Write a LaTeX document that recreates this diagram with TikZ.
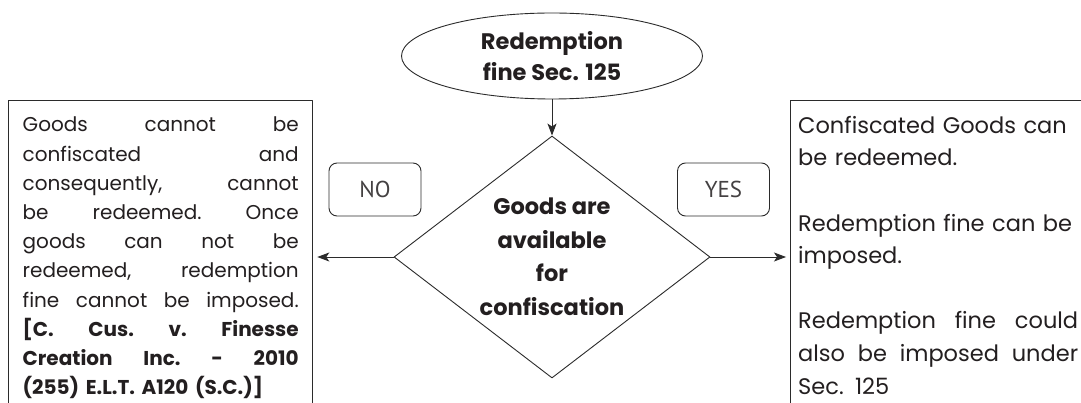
\documentclass[tikz,border=0pt]{standalone}
\usepackage{fontspec}
\setmainfont{Poppins}
\newfontfamily\gillfont{PT Sans}
\usetikzlibrary{shapes.geometric,arrows.meta}
\definecolor{ink}{HTML}{231F20}
\definecolor{edge}{HTML}{2B2B2B}
\newlength{\ltw}\setlength{\ltw}{276pt}
\newlength{\rtw}\setlength{\rtw}{280pt}
\newcommand{\jline}[1]{\makebox[\ltw][l]{#1}}
\newcommand{\rline}[1]{\makebox[\rtw][l]{#1}}
\begin{document}
\begin{tikzpicture}[x=1pt,y=-1pt,line join=round,
  shapeline/.style={draw=edge,line width=0.9pt},
  boxline/.style={draw=edge,line width=1.3pt},
  labelbox/.style={draw=edge,line width=0.9pt,rounded corners=8pt,minimum width=92pt,minimum height=53pt,inner sep=0pt,text=ink!85,font=\gillfont\fontsize{23}{26}\selectfont},
  bodytext/.style={text=ink,inner sep=0pt,align=left,font=\fontsize{20}{29.2}\selectfont},
  arr/.style={draw=edge,line width=0.9pt,-{Stealth[length=12pt,width=9pt,inset=3pt]}}]
\fill[white] (0,0) rectangle (1081,403);
\useasboundingbox (0,0) rectangle (1081,403);
\node[ellipse,shapeline,minimum width=301pt,minimum height=86pt,inner sep=0pt,align=center,text=ink,font=\bfseries\fontsize{22.5}{31}\selectfont] (start) at (552,56) {Redemption\\fine Sec. 125};
\node[diamond,shapeline,minimum width=316pt,minimum height=242pt,inner sep=0pt,aspect=1.306,align=center,text=ink,font=\bfseries\fontsize{22.5}{33.5}\selectfont] (dec) at (552,257) {Goods are\\available\\for\\confiscation};
\node[labelbox] (no) at (375,189.5) {NO};
\node[labelbox] (yes) at (723.5,189.5) {YES};
\node[boxline,anchor=north west,minimum width=304pt,minimum height=330pt,inner sep=0pt] (lbox) at (8,100) {};
\node[boxline,anchor=north west,minimum width=330pt,minimum height=330pt,inner sep=0pt] (rbox) at (790,100) {};
\node[bodytext,anchor=north west,text width=\ltw] (ltext) at (22.5,117) {%
\jline{Goods\hfill cannot\hfill be}\\
\jline{confiscated\hfill and}\\
\jline{consequently,\hfill cannot}\\
\jline{be\hfill redeemed.\hfill Once}\\
\jline{goods\hfill can\hfill not\hfill be}\\
\jline{redeemed,\hfill redemption}\\
\jline{fine\hfill cannot\hfill be\hfill imposed.}\\
\jline{\bfseries [C.\hfill Cus.\hfill v.\hfill Finesse}\\
\jline{\bfseries Creation\hfill Inc.\hfill -\hfill 2010}\\
{\bfseries (255) E.L.T. A120 (S.C.)]}};
\node[bodytext,anchor=north west,text width=\rtw,font=\fontsize{22.5}{32.6}\selectfont] (rtext) at (798,116) {%
Confiscated Goods can\\
be redeemed.\\[32.6pt]
Redemption fine can be\\
imposed.\\[32.6pt]
\rline{Redemption\hfill fine\hfill could}\\
\rline{also\hfill be\hfill imposed\hfill under}\\
Sec. 125};
\draw[arr] (start.south) -- (dec.north);
\draw[arr,shorten >=4pt] (dec.west) -- (dec.west -| lbox.east);
\draw[arr,shorten >=4pt] (dec.east) -- (dec.east -| rbox.west);
\end{tikzpicture}
\end{document}
